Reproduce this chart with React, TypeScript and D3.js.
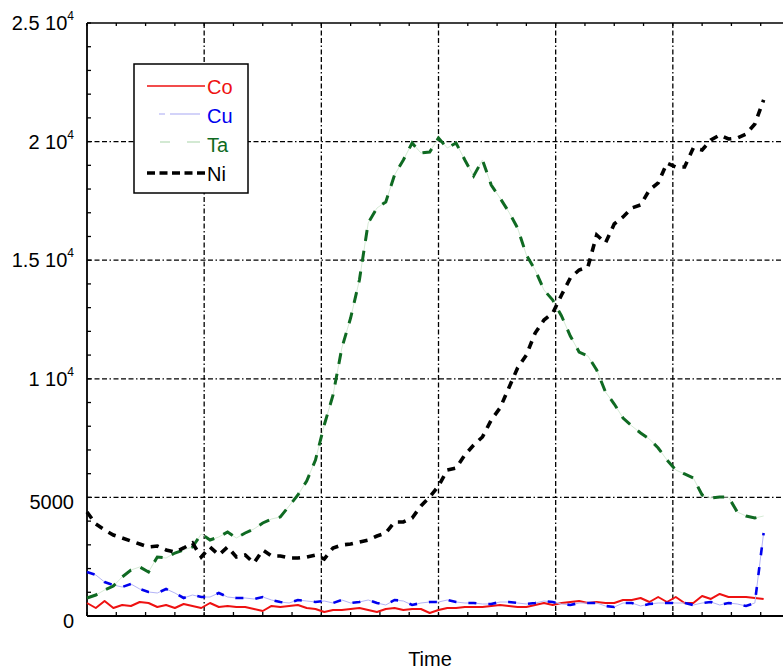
import React from 'react';
import * as d3 from 'd3';

// Sample index (time) values: 78 samples on a 0..80 time axis
const coValues = [548, 337, 632, 337, 464, 422, 590, 548, 380, 464, 337, 506, 422, 337, 548, 380, 422, 380, 380, 295,
  211, 422, 380, 422, 464, 337, 295, 169, 253, 253, 295, 337, 253, 169, 295, 337, 253, 295, 295, 126,
  253, 337, 337, 380, 380, 380, 422, 464, 422, 380, 380, 464, 548, 464, 548, 590, 632, 548, 590, 548,
  548, 675, 675, 759, 590, 801, 590, 801, 548, 548, 843, 717, 928, 801, 801, 801, 759, 717];

const cuValues = [1855, 1729, 1433, 1307, 1223, 1349, 1138, 1012, 970, 1138, 970, 759, 885, 801, 801, 970, 801, 759, 759, 717,
  801, 675, 590, 548, 675, 632, 590, 632, 548, 675, 548, 590, 675, 548, 464, 675, 632, 464, 548, 590,
  590, 675, 590, 548, 548, 506, 506, 590, 590, 548, 506, 548, 632, 590, 506, 464, 548, 548, 548, 422,
  380, 548, 548, 422, 506, 548, 548, 548, 548, 464, 548, 590, 464, 548, 506, 422, 548, 3500];

const taValues = [759, 885, 1096, 1265, 1644, 1939, 2066, 1855, 2487, 2445, 2656, 2783, 2909, 3457, 3204, 3331, 3541, 3288, 3499, 3668,
  3921, 4090, 4174, 4638, 5101, 5692, 6577, 8053, 9317, 11299, 12564, 14166, 16569, 17201, 17454, 18593, 19225, 19942, 19520, 19562,
  20152, 19731, 19942, 19225, 18550, 19225, 18171, 17623, 17033, 16358, 15220, 14587, 13744, 13322, 12648, 11805, 11130, 10962, 10372, 9444,
  8938, 8348, 8010, 7715, 7462, 7083, 6577, 6155, 5987, 5818, 5101, 4975, 5017, 5017, 4385, 4216, 4132, 4216];

const niValues = [4385, 3879, 3626, 3415, 3288, 3162, 3036, 2909, 2951, 2783, 2698, 2867, 3078, 2487, 2909, 2572, 2909, 2487, 2572, 2234,
  2783, 2530, 2530, 2445, 2445, 2487, 2572, 2400, 2867, 2993, 3036, 3120, 3204, 3373, 3499, 3963, 3963, 4132, 4638, 5017,
  5481, 6155, 6240, 6788, 7209, 7547, 8263, 8769, 9612, 10456, 11004, 11931, 12479, 12774, 13533, 14250, 14587, 14714, 16063, 15726,
  16527, 16822, 17201, 17328, 17960, 18255, 19098, 18930, 18930, 19731, 19647, 20068, 20279, 20110, 20152, 20321, 20743, 21755];

const yTickValues = [0, 5000, 10000, 15000, 20000, 25000];
const yTickMain = ['0', '5000', '1 10', '1.5 10', '2 10', '2.5 10'];
const yTickSup = ['', '', '4', '4', '4', '4'];
const xLabel = 'Time';
const seriesNames = ['Co', 'Cu', 'Ta', 'Ni'];

const FONT = '"Liberation Sans", Arial, Helvetica, sans-serif';
const GRID_DASH = '5,2.5,5,2.5,5,2.5,1.5,2.5';

export default function App() {
  const W = 783, H = 671;
  const left = 87, right = 790, top = 23, bottom = 616;
  const x = d3.scaleLinear().domain([0, 80]).range([left, right]);
  const y = d3.scaleLinear().domain([0, 25000]).range([bottom, top]);
  const mk = (vals: number[]) =>
    d3.line<number>().x((_, i) => x(i)).y(d => y(d)).curve(d3.curveLinear)(vals) || '';

  const xMajor = d3.range(1, 6).map(k => (k * 80) / 6);
  const xMinor = d3.range(0, 25).map(k => (k * 80) / 24);
  const yMinor = d3.range(0, 26000, 1000);

  return (
    <svg width={W} height={H} style={{ position: 'absolute', left: 0, top: 0, background: '#fff' }}
      fontFamily={FONT}>
      <rect x={0} y={0} width={W} height={H} fill="#fff" />
      {/* gridlines */}
      {xMajor.map((v, i) => (
        <line key={'gx' + i} x1={x(v)} x2={x(v)} y1={top} y2={bottom} stroke="#000" strokeWidth={1.3}
          strokeDasharray={GRID_DASH} />
      ))}
      {yTickValues.slice(1, 5).map((v, i) => (
        <line key={'gy' + i} x1={left} x2={right} y1={y(v)} y2={y(v)} stroke="#000" strokeWidth={1.3}
          strokeDasharray={GRID_DASH} />
      ))}
      {/* minor ticks */}
      {yMinor.map((v, i) => (
        <line key={'ty' + i} x1={left} x2={left + 4} y1={y(v)} y2={y(v)} stroke="#000" strokeWidth={1.3} />
      ))}
      {xMinor.map((v, i) => (
        <g key={'tx' + i}>
          <line x1={x(v)} x2={x(v)} y1={bottom} y2={bottom - 4} stroke="#000" strokeWidth={1.3} />
          <line x1={x(v)} x2={x(v)} y1={top} y2={top + 3} stroke="#000" strokeWidth={1.3} />
        </g>
      ))}
      {/* frame */}
      <line x1={left} x2={right} y1={top} y2={top} stroke="#000" strokeWidth={1.5} />
      <line x1={left} x2={left} y1={top} y2={bottom} stroke="#000" strokeWidth={1.8} />
      <line x1={left} x2={right} y1={bottom} y2={bottom} stroke="#000" strokeWidth={1.8} />

      {/* series */}
      <path d={mk(coValues)} fill="none" stroke="#ee1111" strokeWidth={2} strokeLinejoin="round" />
      <path d={mk(cuValues)} fill="none" stroke="#b4b4f6" strokeWidth={1} />
      <path d={mk(cuValues)} fill="none" stroke="#0000ee" strokeWidth={2.6} strokeDasharray="8,12" />
      <path d={mk(taValues)} fill="none" stroke="#d6ebd6" strokeWidth={1} />
      <path d={mk(taValues)} fill="none" stroke="#0f6a22" strokeWidth={3} strokeDasharray="11,10" />
      <path d={mk(niValues)} fill="none" stroke="#000" strokeWidth={3.6} strokeDasharray="8,7" />

      {/* y labels */}
      {yTickValues.map((v, i) => (
        <text key={'yl' + i} x={74} y={y(v) + (yTickSup[i] ? 7 : 12)} textAnchor="end" fontSize={20} fill="#000">
          {yTickMain[i]}
          {yTickSup[i] ? <tspan fontSize={12} dy={-10}>{yTickSup[i]}</tspan> : null}
        </text>
      ))}
      <text x={430} y={666} textAnchor="middle" fontSize={20} fill="#000">{xLabel}</text>

      {/* legend */}
      <rect x={134} y={64} width={114} height={129} fill="#fff" stroke="#000" strokeWidth={1.5} />
      <line x1={147} x2={205} y1={86} y2={86} stroke="#ee1111" strokeWidth={1.5} />
      <line x1={159} x2={200} y1={114} y2={114} stroke="#a8a8f4" strokeWidth={1.2} strokeDasharray="6,5,40" />
      <line x1={160} x2={200} y1={142} y2={142} stroke="#a8d4a8" strokeWidth={1.2} strokeDasharray="10,17,14" />
      <line x1={147} x2={205} y1={173} y2={173} stroke="#000" strokeWidth={3.5} strokeDasharray="8,4.5" />
      {seriesNames.map((n, i) => (
        <text key={'lg' + i} x={207} y={94 + i * 29} fontSize={20}
          fill={['#ee1111', '#0000ee', '#0f6a22', '#000'][i]}>{n}</text>
      ))}
    </svg>
  );
}
